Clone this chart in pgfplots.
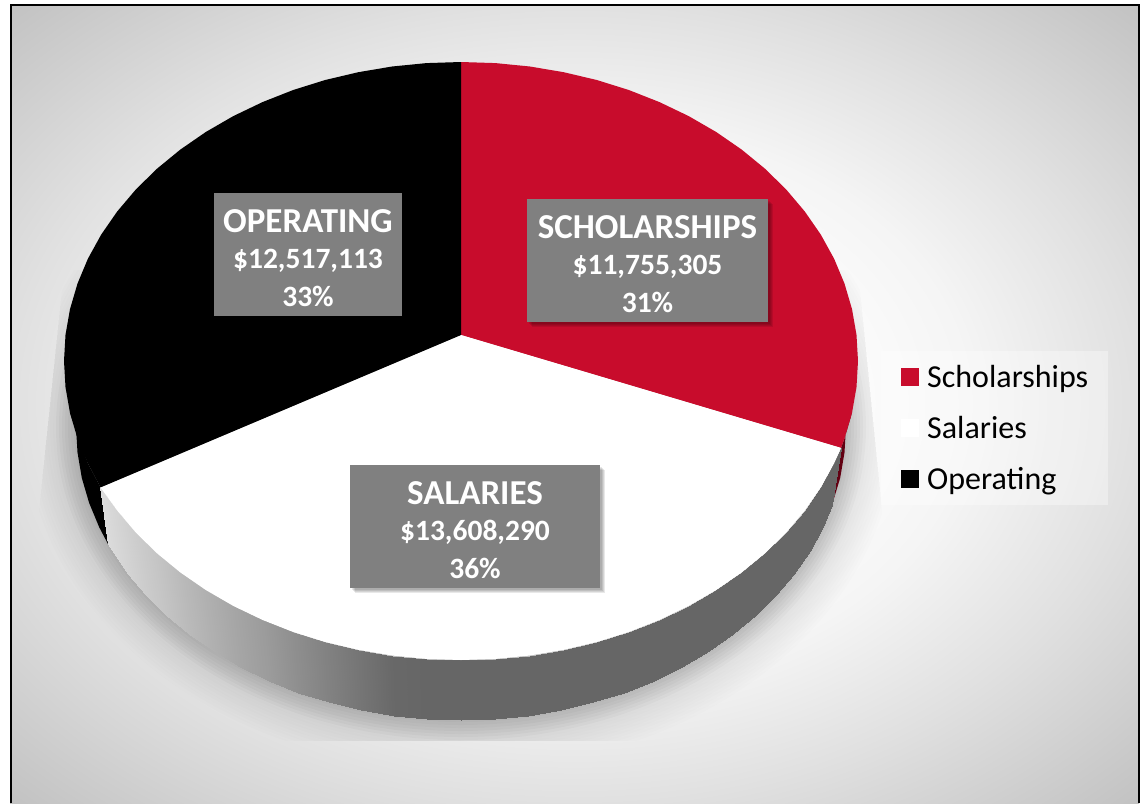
\documentclass[border=0pt]{standalone}
\usepackage{fontspec}
\setmainfont{Carlito}
\usepackage{pgfplots}
\pgfplotsset{compat=1.18}
\definecolor{crimson}{HTML}{C80C2C}
\definecolor{darkcrimson}{HTML}{620012}
\definecolor{boxgray}{HTML}{808080}
\pgfdeclareradialshading{bggrad}{\pgfpoint{0bp}{0bp}}{
  color(0bp)=(white);
  color(10bp)=(white);
  color(17.5bp)=(black!4);
  color(25bp)=(black!12);
  color(35.4bp)=(black!24);
  color(50bp)=(black!24)}
\newcommand{\labelbox}[7]{%
  \fill[black,opacity=0.09] (axis cs:#1+2,#2+2) rectangle (axis cs:#3+2,#4+2);
  \fill[black,opacity=0.09] (axis cs:#1+3,#2+3) rectangle (axis cs:#3+3,#4+3);
  \fill[black,opacity=0.09] (axis cs:#1+4,#2+4) rectangle (axis cs:#3+4,#4+4);
  \fill[black,opacity=0.09] (axis cs:#1+5,#2+5) rectangle (axis cs:#3+5,#4+5);
  \fill[boxgray] (axis cs:#1,#2) rectangle (axis cs:#3,#4);
  \node[anchor=base,text=white,font=\fontsize{35}{35}\selectfont\bfseries,inner sep=0pt] at (axis cs:{(#1+#3)/2},#2+39) {#5};
  \node[anchor=base,text=white,font=\fontsize{29.5}{29.5}\selectfont\bfseries,inner sep=0pt] at (axis cs:{(#1+#3)/2},#2+75.5) {#6};
  \node[anchor=base,text=white,font=\fontsize{29.5}{29.5}\selectfont\bfseries,inner sep=0pt] at (axis cs:{(#1+#3)/2},#2+113) {#7};
}
\begin{document}
\begin{tikzpicture}[x=1pt,y=1pt]
\begin{axis}[
  at={(0pt,0pt)},anchor=south west,
  scale only axis,width=1140pt,height=803pt,
  xmin=0,xmax=1140,ymin=0,ymax=803,y dir=reverse,
  hide axis,clip=false,
  colormap={grays}{gray(0cm)=(0); gray(1cm)=(1)},
  point meta min=0,point meta max=1,
  area legend,
  legend image code/.code={\fill[#1,fill opacity=1] (0pt,-9pt) rectangle (18pt,9pt);},
  legend style={at={(axis cs:881,351)},anchor=north west,draw=none,
    fill=white,fill opacity=0.35,text opacity=1,
    font=\fontsize{32}{32}\selectfont,
    inner xsep=20pt,inner ysep=10pt,row sep=19pt,
    nodes={inner sep=0pt,anchor=west,text height=26pt,text depth=6pt},
    /tikz/every odd column/.append style={column sep=8pt}},
  legend cell align=left,
]
% page background
\fill[white] (axis cs:0,0) rectangle (axis cs:1140,803);
\shade[shading=bggrad] (axis cs:10,4) rectangle (axis cs:1139,803);
% soft shadow below the pie
\begin{scope}
\clip (axis cs:64,270) -- (axis cs:38,520) -- (axis cs:38,741) -- (axis cs:883,741) -- (axis cs:883,520) -- (axis cs:858,270) -- cycle;
\pgfplotsinvokeforeach{2,5,...,50}{
  \fill[black,opacity=0.008] (axis cs:461,427) ellipse [x radius=385+#1, y radius=293+#1];
}
\pgfplotsinvokeforeach{2,5,...,20}{
  \fill[black,opacity=0.014] (axis cs:461,427) ellipse [x radius=385+#1, y radius=293+#1];
}
\end{scope}
% slivers of the side
\addplot[fill=black,draw=none,forget plot] coordinates {
(100.5,487.4)(108,544)(99.2,527.2)(89.1,502.8)(81.8,477.9)(77.5,452.5)(76,427)(70,412.9)(87.9,463.3)};
\addplot[fill=darkcrimson,draw=none,forget plot] coordinates {
(841,447.9)(832,505)(840.2,477.9)(844.5,452.5)(846,427)(852,412.9)(844.5,438.4)};
% side band
\addplot[surf,shader=interp,mesh/rows=2,point meta=explicit,forget plot] table[x=x,y=y,meta=c] {
x y c
100.5 487.4 .86
117.2 510.5 .83
135.8 532.5 .80
156.9 553.2 .77
180.3 572.4 .73
205.8 590.0 .69
233.3 605.9 .65
262.5 619.9 .61
293.2 632.0 .56
325.2 642.0 .51
358.3 649.8 .46
392.1 655.5 .41
426.4 658.9 .40
461.0 660.0 .40
495.6 658.9 .40
529.9 655.5 .40
563.7 649.8 .40
596.8 642.0 .40
628.8 632.0 .40
659.5 619.9 .40
688.7 605.9 .40
716.2 590.0 .40
741.7 572.4 .40
765.1 553.2 .40
786.2 532.5 .40
804.8 510.5 .40
820.8 487.4 .40
834.1 463.3 .40
841.0 447.9 .40
108.0 544.0 .86
127.6 573.5 .83
145.6 595.1 .80
166.1 615.3 .77
188.8 634.2 .73
213.5 651.4 .69
240.2 667.0 .65
268.5 680.7 .61
298.3 692.5 .56
329.3 702.3 .51
361.4 710.0 .46
394.1 715.6 .41
427.4 718.9 .40
461.0 720.0 .40
494.6 718.9 .40
527.9 715.6 .40
560.6 710.0 .40
592.7 702.3 .40
623.7 692.5 .40
653.5 680.7 .40
681.8 667.0 .40
708.5 651.4 .40
733.2 634.2 .40
755.9 615.3 .40
776.4 595.1 .40
794.4 573.5 .40
809.9 550.8 .40
822.8 527.2 .40
832.0 505.0 .40
};
% top faces
\addplot[fill=crimson,draw=none] coordinates {
(461,335)(461,62)(495.6,63.1)(529.9,66.5)(563.7,72.2)(596.8,80)(628.8,90)(659.5,102.1)(688.7,116.1)(716.2,132)(741.7,149.6)(765.1,168.8)(786.2,189.5)(804.8,211.5)(820.8,234.6)(834.1,258.7)(844.5,283.6)(852,309.1)(856.5,334.9)(858,361)(856.5,387.1)(852,412.9)(844.5,438.4)(841,447.9)};
\addlegendentry{Scholarships}
\addplot[fill=white,draw=none] coordinates {
(461,335)(841,447.9)(834.1,463.3)(820.8,487.4)(804.8,510.5)(786.2,532.5)(765.1,553.2)(741.7,572.4)(716.2,590)(688.7,605.9)(659.5,619.9)(628.8,632)(596.8,642)(563.7,649.8)(529.9,655.5)(495.6,658.9)(461,660)(426.4,658.9)(392.1,655.5)(358.3,649.8)(325.2,642)(293.2,632)(262.5,619.9)(233.3,605.9)(205.8,590)(180.3,572.4)(156.9,553.2)(135.8,532.5)(117.2,510.5)(100.5,487.4)};
\addlegendentry{Salaries}
\addplot[fill=black,draw=none] coordinates {
(461,335)(100.5,487.4)(87.9,463.3)(77.5,438.4)(70,412.9)(65.5,387.1)(64,361)(65.5,334.9)(70,309.1)(77.5,283.6)(87.9,258.7)(101.2,234.6)(117.2,211.5)(135.8,189.5)(156.9,168.8)(180.3,149.6)(205.8,132)(233.3,116.1)(262.5,102.1)(293.2,90)(325.2,80)(358.3,72.2)(392.1,66.5)(426.4,63.1)(461,62)};
\addlegendentry{Operating}
% labels
\labelbox{214}{193}{402}{316}{OPERATING}{\$12,517,113}{33\%}
\labelbox{527}{199}{768}{322}{SCHOLARSHIPS}{\$11,755,305}{31\%}
\labelbox{350}{465}{600}{588}{SALARIES}{\$13,608,290}{36\%}
% frame
\draw[black,line width=2pt] (axis cs:10.5,803) -- (axis cs:10.5,4.5) -- (axis cs:1138.5,4.5) -- (axis cs:1138.5,803);
\end{axis}
\end{tikzpicture}
\end{document}
